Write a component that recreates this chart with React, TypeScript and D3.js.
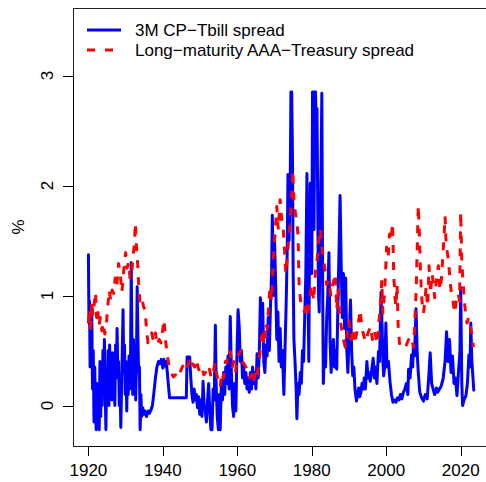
import React from "react";
import * as d3 from "d3";

const cpYears = [
  1920.0,1920.15,1920.3,1920.45,1920.6,1920.75,1920.9,1921.1,1921.3,1921.5,1921.7,1921.9,1922.1,1922.3,1922.5,1922.7,1922.9,
  1923.1,1923.3,1923.5,1923.7,1923.9,1924.1,1924.3,1924.5,1924.7,1924.9,1925.1,1925.3,1925.5,1925.7,1925.9,1926.1,1926.3,
  1926.5,1926.7,1926.9,1927.1,1927.3,1927.5,1927.7,1927.9,1928.1,1928.3,1928.5,1928.7,1928.9,1929.1,1929.3,1929.5,1929.7,
  1929.9,1930.1,1930.3,1930.5,1930.7,1930.9,1931.1,1931.3,1931.5,1931.7,1931.9,1932.1,1932.3,1932.5,1932.7,1932.9,1933.1,
  1933.3,1933.5,1933.7,1933.9,1934.1,1934.3,1934.6,1934.9,1935.2,1935.6,1936.0,1936.4,1936.8,1937.2,1937.6,1938.0,1938.4,
  1938.8,1939.2,1939.6,1940.0,1940.3,1940.6,1940.9,1941.2,1941.5,1941.8,1946.3,1946.5,1947.2,1947.5,1947.8,1948.1,1948.4,
  1948.7,1949.0,1949.3,1949.6,1949.9,1950.2,1950.5,1950.8,1951.1,1951.4,1951.7,1952.0,1952.3,1952.6,1952.9,1953.2,1953.5,
  1953.8,1954.1,1954.3,1954.6,1954.9,1955.2,1955.4,1955.7,1956.0,1956.3,1956.6,1956.9,1957.2,1957.5,1957.8,1958.1,1958.4,
  1958.7,1959.0,1959.3,1959.6,1959.9,1960.2,1960.5,1960.8,1961.1,1961.4,1961.7,1962.0,1962.3,1962.6,1962.9,1963.2,1963.5,
  1963.8,1964.1,1964.4,1964.7,1965.0,1965.3,1965.6,1965.9,1966.2,1966.5,1966.8,1967.1,1967.4,1967.7,1968.0,1968.3,1968.6,
  1968.9,1969.2,1969.4,1969.7,1970.0,1970.3,1970.6,1970.9,1971.2,1971.5,1971.8,1972.1,1972.5,1972.8,1973.1,1973.4,1973.6,
  1973.9,1974.2,1974.4,1974.6,1974.8,1975.0,1975.2,1975.5,1975.8,1976.0,1976.3,1976.6,1976.9,1977.2,1977.5,1977.8,1978.1,
  1978.4,1978.7,1978.9,1979.2,1979.4,1979.6,1979.8,1980.0,1980.2,1980.4,1980.6,1980.8,1981.0,1981.2,1981.4,1981.6,1981.8,
  1982.0,1982.2,1982.5,1982.7,1982.9,1983.1,1983.4,1983.7,1984.0,1984.3,1984.6,1984.9,1985.2,1985.5,1985.8,1986.1,1986.4,
  1986.7,1987.0,1987.3,1987.6,1987.9,1988.2,1988.5,1988.8,1989.1,1989.4,1989.7,1990.0,1990.4,1990.7,1991.0,1991.3,1991.6,
  1992.0,1992.3,1992.6,1992.9,1993.2,1993.5,1993.8,1994.1,1994.4,1994.8,1995.1,1995.4,1995.7,1996.0,1996.5,1996.8,1997.1,
  1997.5,1997.9,1998.2,1998.6,1998.9,1999.1,1999.3,1999.6,1999.9,2000.2,2000.6,2001.0,2001.4,2001.8,2002.2,2002.6,2003.0,
  2003.4,2003.8,2004.2,2004.6,2005.0,2005.4,2005.8,2006.0,2006.4,2006.8,2007.1,2007.3,2007.6,2008.0,2008.3,2008.6,2009.0,
  2009.5,2010.0,2010.5,2011.0,2011.5,2011.8,2012.2,2012.6,2013.0,2013.5,2013.8,2014.3,2014.8,2015.3,2015.8,2016.2,2016.6,
  2017.0,2017.4,2017.8,2018.2,2018.6,2019.0,2019.4,2019.8,2020.0,2020.3,2020.5,2020.9,2021.4,2021.8,2022.2,2022.5,2022.7,
  2023.0,2023.3,2023.5
];
const cpValues = [
  1.37,0.75,0.95,0.35,0.7,0.4,0.85,0.15,0.5,-0.15,0.35,-0.05,-0.22,0.2,-0.2,0.1,-0.22,
  0.4,-0.1,0.35,0.0,0.5,0.1,0.6,0.15,-0.22,0.3,0.1,0.5,0.0,0.55,0.2,0.45,0.05,
  0.48,0.15,0.3,0.0,0.55,0.25,0.7,0.3,0.4,0.0,0.2,-0.2,0.15,0.5,0.87,0.3,0.55,
  0.1,0.4,-0.05,0.35,0.1,0.45,0.15,0.3,1.3,0.5,0.1,0.6,0.2,0.5,0.05,0.4,1.08,
  0.6,0.3,0.35,-0.22,0.1,-0.1,-0.02,-0.08,-0.05,-0.1,-0.05,-0.07,-0.04,0.0,0.12,0.25,0.35,
  0.4,0.38,0.42,0.34,0.42,0.36,0.4,0.3,0.18,0.07,0.07,0.44,0.44,0.25,0.1,0.03,0.15,
  0.05,0.1,-0.02,0.08,-0.08,0.05,-0.1,0.22,0.0,-0.05,-0.15,0.05,0.2,-0.05,-0.22,-0.22,0.15,
  0.05,0.73,0.2,-0.1,-0.22,0.1,-0.22,0.2,0.05,0.3,0.1,0.35,0.2,0.45,0.15,0.81,0.3,
  0.0,-0.1,0.2,-0.05,0.47,0.87,0.72,0.4,0.5,0.25,0.35,0.2,0.3,0.15,0.25,0.12,0.3,
  0.15,0.35,0.2,0.3,0.15,0.47,0.25,0.48,0.98,0.6,0.93,0.4,0.3,0.55,0.45,0.8,0.5,
  0.9,1.2,1.73,1.0,1.5,1.1,0.6,0.85,0.4,0.7,0.35,0.5,0.1,0.5,0.9,1.4,2.1,
  1.5,2.0,2.85,2.85,2.3,1.2,0.6,0.4,0.15,-0.12,0.2,0.1,0.3,0.2,0.5,0.4,0.8,
  1.2,2.11,1.3,0.4,1.5,2.02,1.8,1.2,2.85,2.85,1.6,2.85,2.85,2.5,2.7,1.8,1.0,
  0.85,1.5,2.2,2.84,1.2,0.2,0.5,0.35,0.8,1.0,1.39,0.6,0.3,0.5,0.6,0.35,0.5,
  0.33,0.9,1.39,1.91,1.27,0.8,1.2,0.7,1.16,0.5,0.3,0.6,0.96,0.5,0.27,0.35,0.15,
  0.04,0.1,0.16,0.08,0.12,0.2,0.15,0.25,0.15,0.4,0.25,0.3,0.22,0.3,0.43,0.25,0.35,
  0.2,0.49,0.4,1.03,0.7,0.4,0.27,0.35,0.75,0.35,0.4,0.22,0.1,0.03,0.05,0.03,0.07,
  0.05,0.1,0.06,0.12,0.15,0.2,0.1,0.33,0.25,0.46,0.35,0.55,0.45,0.88,0.49,0.3,0.12,
  0.07,0.04,0.1,0.06,0.3,0.48,0.2,0.15,0.1,0.16,0.12,0.15,0.18,0.25,0.4,0.67,0.4,
  0.6,0.3,0.45,0.2,0.25,0.09,0.3,0.5,1.07,0.2,0.0,0.05,0.09,0.2,0.46,0.35,0.75,
  0.4,0.25,0.14
];

const aaaYears = [
  1920.0,1920.3,1920.6,1920.9,1921.2,1921.5,1921.9,1922.2,1922.5,1922.8,1923.2,1923.6,1924.0,1924.4,1924.8,1925.2,1925.6,
  1926.0,1926.4,1926.8,1927.2,1927.6,1928.1,1928.5,1929.0,1929.4,1930.0,1930.4,1930.8,1931.2,1931.6,1932.0,1932.4,1932.6,
  1932.9,1933.2,1933.5,1933.8,1934.3,1934.8,1935.2,1935.6,1936.0,1936.5,1937.0,1937.5,1938.0,1938.5,1939.0,1939.5,1940.0,
  1940.3,1940.7,1941.2,1941.7,1942.2,1942.8,1943.4,1944.0,1944.6,1945.2,1945.8,1946.4,1947.0,1947.5,1948.0,1948.5,1949.0,
  1949.5,1950.0,1950.5,1951.0,1951.5,1952.0,1952.5,1953.0,1953.5,1954.0,1954.5,1955.0,1955.4,1955.8,1956.3,1956.8,1957.2,
  1957.6,1958.1,1958.6,1959.0,1959.5,1960.0,1960.5,1960.9,1961.3,1961.8,1962.3,1962.8,1963.3,1963.8,1964.3,1964.8,1965.3,
  1965.8,1966.1,1966.5,1966.8,1967.2,1967.6,1968.0,1968.4,1968.8,1969.2,1969.6,1970.0,1970.3,1970.6,1971.0,1971.5,1971.9,
  1972.3,1972.7,1973.0,1973.4,1973.8,1974.2,1974.6,1974.9,1975.2,1975.6,1976.0,1976.3,1976.6,1977.0,1977.5,1978.0,1978.5,
  1979.0,1979.5,1980.0,1980.5,1981.0,1981.5,1981.9,1982.3,1982.7,1983.1,1983.5,1984.0,1984.6,1985.1,1985.6,1986.0,1986.3,
  1986.7,1987.1,1987.5,1988.0,1988.5,1989.0,1989.5,1990.0,1990.5,1991.0,1991.5,1992.0,1992.5,1993.0,1993.5,1994.0,1994.5,
  1995.0,1995.8,1996.3,1996.8,1997.2,1997.6,1998.0,1998.4,1998.8,1999.1,1999.5,1999.8,2000.1,2000.5,2000.9,2001.3,2001.7,
  2002.0,2002.3,2002.6,2002.9,2003.2,2003.6,2004.2,2004.8,2005.4,2006.0,2006.6,2007.0,2007.3,2007.6,2008.0,2008.3,2008.6,
  2008.9,2009.2,2009.6,2010.0,2010.4,2010.7,2011.1,2011.5,2011.9,2012.3,2012.7,2013.0,2013.5,2014.0,2014.4,2014.8,2015.1,
  2015.4,2015.8,2016.1,2016.7,2017.1,2017.5,2017.9,2018.4,2018.8,2019.3,2019.7,2020.0,2020.3,2020.6,2021.0,2021.3,2021.7,
  2022.1,2022.6,2023.0,2023.4
];
const aaaValues = [
  0.75,0.88,0.7,0.95,0.82,0.9,1.03,0.8,0.88,0.72,0.8,0.68,0.75,0.65,0.72,0.9,1.05,
  0.95,1.05,1.02,1.16,1.08,1.29,1.22,1.03,1.2,1.39,1.25,1.3,1.15,1.2,1.35,1.5,1.66,
  1.45,1.3,1.1,0.95,0.99,0.9,0.87,0.7,0.57,0.62,0.66,0.58,0.66,0.55,0.6,0.57,0.7,
  0.78,0.6,0.45,0.35,0.3,0.26,0.28,0.25,0.3,0.35,0.38,0.33,0.4,0.44,0.38,0.35,0.42,
  0.34,0.3,0.34,0.28,0.3,0.27,0.33,0.25,0.3,0.39,0.28,0.2,0.17,0.3,0.25,0.4,0.39,
  0.5,0.49,0.35,0.4,0.3,0.45,0.47,0.5,0.4,0.38,0.35,0.3,0.25,0.28,0.2,0.3,0.25,
  0.4,0.48,0.6,0.69,0.55,0.75,0.7,0.9,1.08,0.95,1.3,1.5,1.65,1.81,1.6,1.87,1.7,
  1.62,1.4,1.2,1.35,1.5,1.66,1.9,2.14,1.87,1.75,1.66,1.55,1.08,0.95,0.9,0.85,0.92,
  0.85,1.0,1.1,0.95,1.23,1.35,1.5,1.61,1.45,1.33,1.25,1.1,1.14,1.0,1.1,1.15,1.2,
  0.87,1.05,0.8,0.7,0.6,0.53,0.65,0.77,0.6,0.7,0.56,0.65,0.75,0.87,0.7,0.63,0.58,
  0.65,0.72,0.6,0.68,0.62,0.56,0.75,0.9,1.14,0.84,1.0,1.2,1.44,1.35,1.56,1.5,1.66,
  1.2,1.0,0.9,1.1,0.72,0.55,0.56,0.58,0.55,0.6,0.55,0.58,0.53,0.7,1.02,1.4,1.82,
  1.56,1.2,0.95,0.84,0.95,1.08,0.9,1.27,1.02,1.2,1.1,0.98,1.15,1.27,1.05,1.14,1.3,
  1.47,1.72,1.45,1.33,1.15,1.02,0.95,0.84,0.95,1.02,0.95,1.76,1.3,1.14,0.95,0.84,0.75,
  0.8,0.72,0.65,0.53
];

const xTicks = [1920, 1940, 1960, 1980, 2000, 2020];
const yTicks = [0, 1, 2, 3];
const legendLabels = ["3M CP\u2212Tbill spread", "Long\u2212maturity AAA\u2212Treasury spread"];
const yLabel = "%";

const W = 486;
const H = 482;
const left = 73;
const right = 489;
const top = 8;
const bottom = 446;
const FONT = "'Liberation Sans', Arial, Helvetica, sans-serif";
const FS = 17;

export default function App() {
  const x = d3.scaleLinear().domain([1915.86, 2027.6]).range([left, right]);
  const y = d3.scaleLinear().domain([-0.368, 3.614]).range([bottom, top]);

  const cpData = cpYears.map((yr, i) => [yr, cpValues[i]] as [number, number]);
  const aaaData = aaaYears.map((yr, i) => [yr, aaaValues[i]] as [number, number]);
  const line = d3.line<[number, number]>().x((d) => x(d[0])).y((d) => y(d[1]));

  return (
    <svg width={W} height={H} style={{ position: "absolute", left: 0, top: 0, background: "#fff" }}>
      <defs>
        <clipPath id="plotClip">
          <rect x={left} y={top} width={right - left} height={bottom - top} />
        </clipPath>
      </defs>
      <rect x={0} y={0} width={W} height={H} fill="#fff" />
      <g clipPath="url(#plotClip)">
        <path d={line(cpData) || ""} fill="none" stroke="#0000ff" strokeWidth={3} strokeLinejoin="round" strokeLinecap="round" />
        <path d={line(aaaData) || ""} fill="none" stroke="#ff0000" strokeWidth={3} strokeDasharray="8 9" strokeLinejoin="round" />
      </g>
      <rect x={left + 0.5} y={top + 0.5} width={right - left} height={bottom - top} fill="none" stroke="#222" strokeWidth={1} />
      <line x1={x(xTicks[0])} x2={x(xTicks[xTicks.length - 1])} y1={bottom + 0.5} y2={bottom + 0.5} stroke="#000" />
      {xTicks.map((t) => (
        <g key={t}>
          <line x1={Math.round(x(t)) + 0.5} x2={Math.round(x(t)) + 0.5} y1={bottom} y2={bottom + 10} stroke="#000" />
          <text x={x(t)} y={475.5} textAnchor="middle" fontFamily={FONT} fontSize={FS} fill="#000">{t}</text>
        </g>
      ))}
      <line x1={left + 0.5} x2={left + 0.5} y1={y(0)} y2={y(3)} stroke="#000" />
      {yTicks.map((t) => (
        <g key={t}>
          <line x1={left - 10} x2={left} y1={Math.round(y(t)) + 0.5} y2={Math.round(y(t)) + 0.5} stroke="#000" />
          <text transform={`translate(52.5,${y(t)}) rotate(-90)`} textAnchor="middle" fontFamily={FONT} fontSize={FS} fill="#000">{t}</text>
        </g>
      ))}
      <text transform={`translate(24,${(top + bottom) / 2}) rotate(-90)`} textAnchor="middle" fontFamily={FONT} fontSize={FS} fill="#000">{yLabel}</text>
      <line x1={87} x2={121} y1={30} y2={30} stroke="#0000ff" strokeWidth={3} />
      <line x1={87} x2={121} y1={50} y2={50} stroke="#ff0000" strokeWidth={3} strokeDasharray="8 10" />
      <text x={135} y={35.8} fontFamily={FONT} fontSize={FS} fill="#000">{legendLabels[0]}</text>
      <text x={135} y={55.5} fontFamily={FONT} fontSize={FS} fill="#000">{legendLabels[1]}</text>
    </svg>
  );
}
